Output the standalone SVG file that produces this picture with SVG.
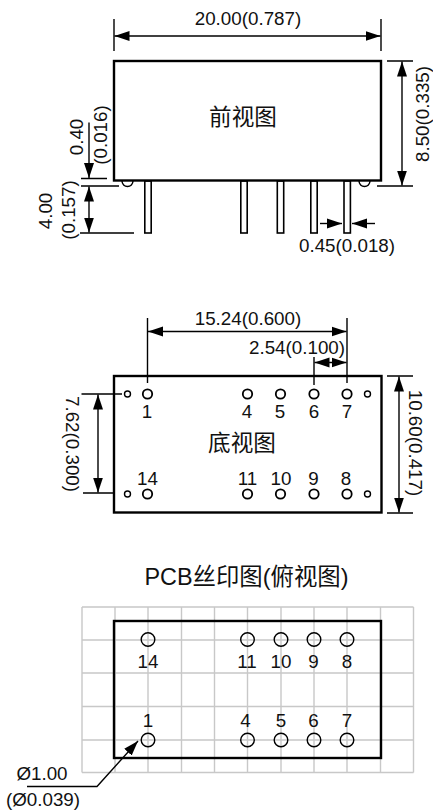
<svg xmlns="http://www.w3.org/2000/svg" width="433" height="811" viewBox="0 0 433 811">
<style>
text{font-family:"Liberation Sans","Noto Sans CJK SC",sans-serif;font-size:18.8px;fill:#111;text-anchor:middle}
.cjk{font-size:22.6px}
.title{font-size:23.4px}
.body{fill:none;stroke:#000;stroke-width:2.4}
.dim{fill:none;stroke:#000;stroke-width:1.4}
.arr{marker-start:url(#a);marker-end:url(#a)}
.end{marker-end:url(#a)}
.pin{fill:#fff;stroke:#000;stroke-width:1.6}
.hole{fill:none;stroke:#000;stroke-width:1.8}
.pad{fill:none;stroke:#000;stroke-width:1.4}
.grid{fill:none;stroke:#c8c8c8;stroke-width:1.4}
</style>
<defs>
<marker id="a" markerUnits="userSpaceOnUse" markerWidth="16" markerHeight="12" refX="15" refY="6" orient="auto-start-reverse"><path d="M0 1 L15 6 L0 11 Z" fill="#000"/></marker>
</defs>
<rect width="433" height="811" fill="#fff"/>

<g id="front-view">
<path class="pad" d="M122 181 A5.5 5.5 0 0 0 133 181 M359 181 A5.5 5.5 0 0 0 370 181"/>
<rect class="pin" x="144.800" y="181" width="6.400" height="52"/>
<rect class="pin" x="240.800" y="181" width="6.400" height="52"/>
<rect class="pin" x="277.300" y="181" width="6.400" height="52"/>
<rect class="pin" x="310.800" y="181" width="6.400" height="52"/>
<rect class="pin" x="344" y="181" width="6.400" height="52"/>
<rect class="body" x="114" y="61" width="267" height="119.500"/>
<text class="cjk" x="243" y="124.500">前视图</text>
</g>

<g id="bottom-view">
<rect class="body" x="114" y="376" width="267.500" height="136.500"/>
<g class="hole">
<circle cx="147.500" cy="394" r="4.700"/><circle cx="247.500" cy="394" r="4.700"/><circle cx="280.500" cy="394" r="4.700"/><circle cx="314" cy="394" r="4.700"/><circle cx="347" cy="394" r="4.700"/>
<circle cx="147.500" cy="494" r="4.700"/><circle cx="247.500" cy="494" r="4.700"/><circle cx="280.500" cy="494" r="4.700"/><circle cx="314" cy="494" r="4.700"/><circle cx="347" cy="494" r="4.700"/>
</g>
<g class="pad">
<circle cx="127.500" cy="394" r="3"/><circle cx="367.500" cy="394" r="3"/><circle cx="127.500" cy="494" r="3"/><circle cx="367.500" cy="494" r="3"/>
</g>
<text x="147" y="418">1</text><text x="247" y="418">4</text><text x="280" y="418">5</text><text x="314" y="418">6</text><text x="347" y="418">7</text>
<text x="147.500" y="485">14</text><text x="247.500" y="485">11</text><text x="281" y="485">10</text><text x="313.500" y="485">9</text><text x="346" y="485">8</text>
<text class="cjk" x="242" y="450.500">底视图</text>
</g>

<g id="pcb-view">
<path class="grid" d="M82 607H413.500M82 640H413.500M82 673H413.500M82 706.500H413.500M82 740H413.500M82 772.500H413.500M82 607V772.500M115 607V772.500M148 607V772.500M181.500 607V772.500M214.500 607V772.500M247.500 607V772.500M281 607V772.500M314 607V772.500M347 607V772.500M380.500 607V772.500M413.500 607V772.500"/>
<rect class="body" x="114" y="621" width="267" height="137"/>
<g class="pad">
<circle cx="148" cy="639.500" r="6.800"/><circle cx="247.500" cy="639.500" r="6.800"/><circle cx="281" cy="639.500" r="6.800"/><circle cx="314" cy="639.500" r="6.800"/><circle cx="347" cy="639.500" r="6.800"/>
<circle cx="148" cy="740" r="6.800"/><circle cx="247.500" cy="740" r="6.800"/><circle cx="281" cy="740" r="6.800"/><circle cx="314" cy="740" r="6.800"/><circle cx="347" cy="740" r="6.800"/>
</g>
<text x="148" y="668">14</text><text x="247" y="668">11</text><text x="281" y="668">10</text><text x="313.500" y="668">9</text><text x="347" y="668">8</text>
<text x="148" y="727">1</text><text x="245.500" y="727">4</text><text x="281" y="727">5</text><text x="313.500" y="727">6</text><text x="347" y="727">7</text>
<text class="title" x="246.500" y="585">PCB丝印图(俯视图)</text>
</g>

<g id="connectors">
<path class="dim" d="M114 19V51M381 19V51M387 61H413M377 186H413M81 178.500H107M81 186H119M80 233H134"/>
<path class="dim arr" d="M114.500 36H380.500"/>
<path class="dim arr" d="M402 61.500V185.500"/>
<path class="dim end" d="M89 122.500V178"/>
<path class="dim arr" d="M89 186.500V232.500"/>
<path class="dim end" d="M320 223.500H342"/>
<path class="dim end" d="M375 223.500H352"/>
<path class="dim" d="M147.500 318V383M347 318V383M314 357V385M81.500 394H122M83 493H113M387 376H413M387 513H413"/>
<path class="dim arr" d="M148 331.500H346.500"/>
<path class="dim arr" d="M314.500 362.500H346.500"/>
<path class="dim arr" d="M98 394.500V492.500"/>
<path class="dim arr" d="M399 376.500V512.500"/>
<path class="dim end" d="M27 786.500H97L138 741"/>
</g>

<g id="dimension-labels">
<text x="248" y="25">20.00(0.787)</text>
<text transform="translate(429 114) rotate(-90)">8.50(0.335)</text>
<text transform="translate(83 137) rotate(-90)">0.40</text>
<text transform="translate(107 135) rotate(-90)">(0.016)</text>
<text transform="translate(52 211) rotate(-90)">4.00</text>
<text transform="translate(75 210) rotate(-90)">(0.157)</text>
<text x="347" y="252">0.45(0.018)</text>
<text x="248" y="325">15.24(0.600)</text>
<text x="297" y="354">2.54(0.100)</text>
<text transform="translate(66 444) rotate(90)">7.62(0.300)</text>
<text transform="translate(409 443) rotate(90)">10.60(0.417)</text>
<text x="42" y="780">Ø1.00</text>
<text x="43" y="806">(Ø0.039)</text>
</g>
</svg>
